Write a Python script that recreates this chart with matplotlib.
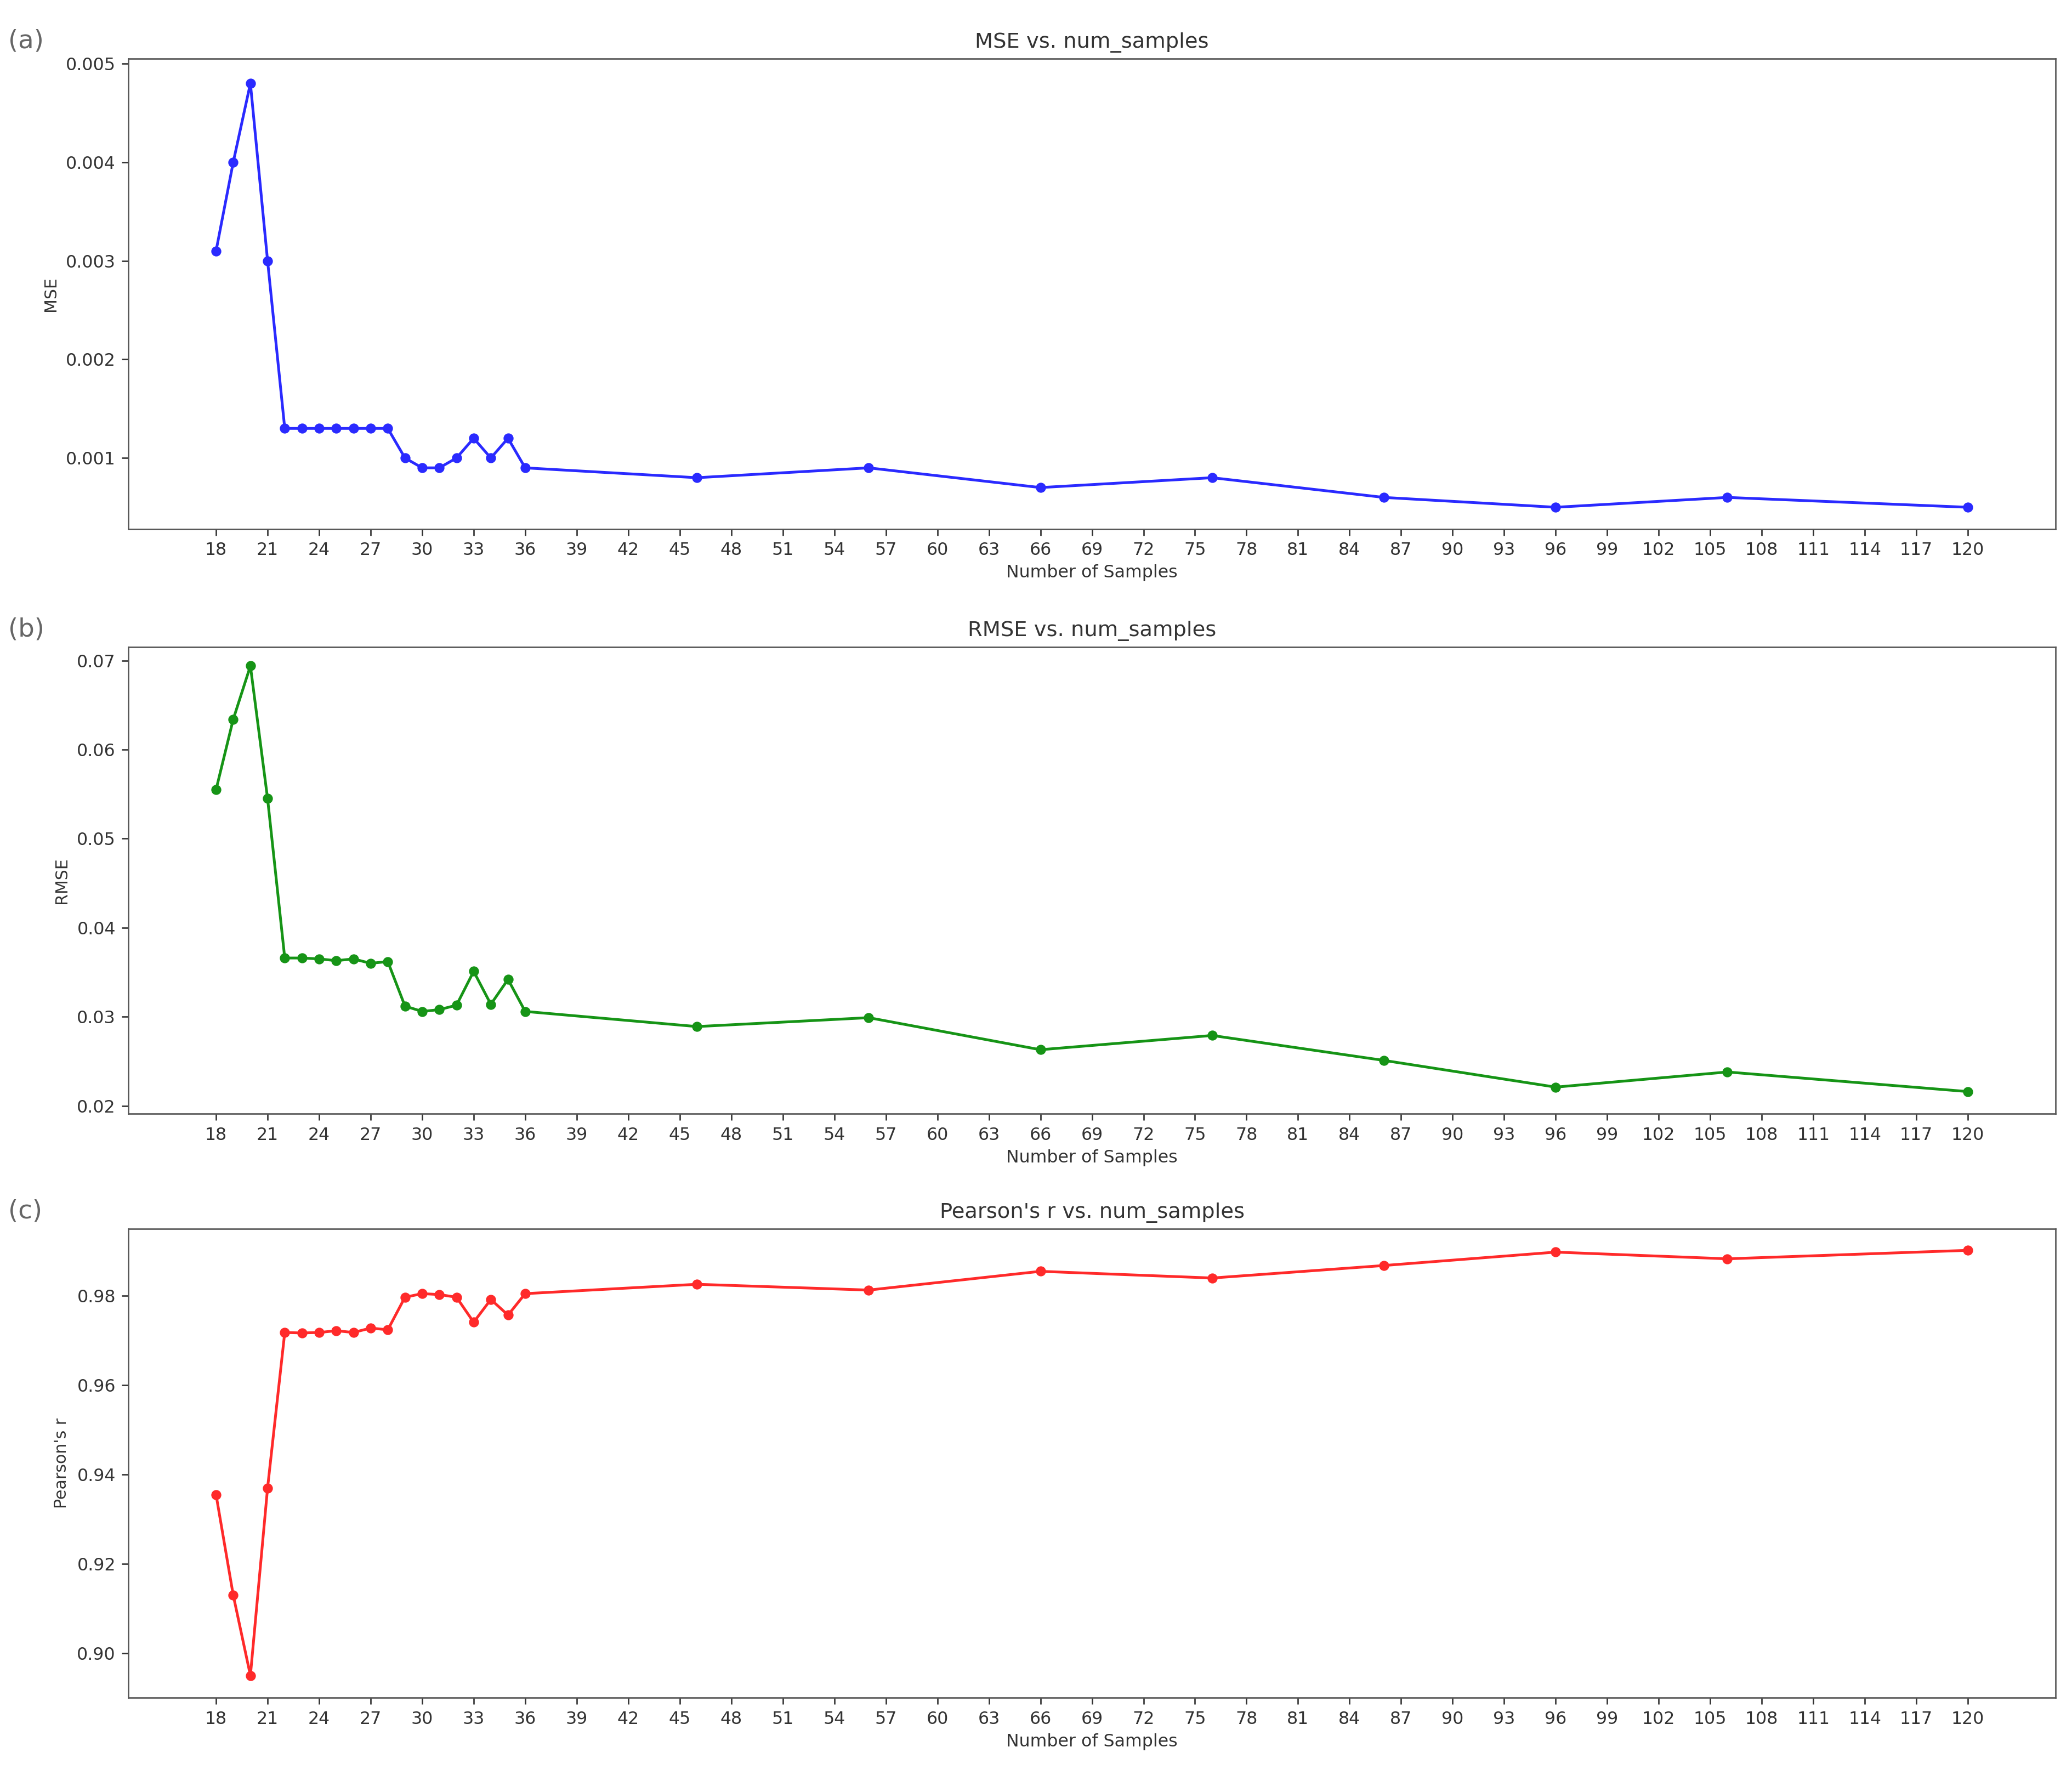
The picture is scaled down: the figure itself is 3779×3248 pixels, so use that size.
import matplotlib
matplotlib.use("Agg")
import matplotlib.pyplot as plt

num_samples = list(range(18, 37)) + [46, 56, 66, 76, 86, 96, 106, 120]

mse = [0.0031, 0.0040, 0.0048, 0.0030, 0.0013, 0.0013, 0.0013, 0.0013, 0.0013, 0.0013, 0.0013,
       0.0010, 0.0009, 0.0009, 0.0010, 0.0012, 0.0010, 0.0012, 0.0009,
       0.0008, 0.0009, 0.0007, 0.0008, 0.0006, 0.0005, 0.0006, 0.0005]

rmse = [0.0555, 0.0634, 0.0694, 0.0545, 0.0366, 0.0366, 0.0365, 0.0363, 0.0365, 0.0360, 0.0362,
        0.0312, 0.0306, 0.0308, 0.0313, 0.0351, 0.0314, 0.0342, 0.0306,
        0.0289, 0.0299, 0.0263, 0.0279, 0.0251, 0.0221, 0.0238, 0.0216]

pearson = [0.9355, 0.913, 0.895, 0.937, 0.9718, 0.9717, 0.9718, 0.9722, 0.9718, 0.9728, 0.9724,
           0.9797, 0.9805, 0.9803, 0.9797, 0.9741, 0.9792, 0.9757, 0.9805,
           0.9826, 0.9813, 0.9855, 0.9840, 0.9868, 0.9898, 0.9883, 0.9902]

x_ticks = list(range(18, 121, 3))

panels = [
    ("(a)", "MSE vs. num_samples", "MSE", mse, "#2a2aff", [0.001, 0.002, 0.003, 0.004, 0.005],
     (0.00028, 0.00505), [0.062, 0.703, 0.930, 0.264], "{:.3f}"),
    ("(b)", "RMSE vs. num_samples", "RMSE", rmse, "#169416", [0.02, 0.03, 0.04, 0.05, 0.06, 0.07],
     (0.0191, 0.0715), [0.062, 0.3746, 0.930, 0.262], "{:.2f}"),
    ("(c)", "Pearson's r vs. num_samples", "Pearson's r", pearson, "#ff2a2a",
     [0.90, 0.92, 0.94, 0.96, 0.98], (0.890, 0.995), [0.062, 0.0467, 0.930, 0.2633], "{:.2f}"),
]

fig = plt.figure(figsize=(3779 / 240, 3248 / 240), dpi=240)

for tag, title, ylabel, values, color, yticks, ylim, rect, fmt in panels:
    ax = fig.add_axes(rect)
    ax.plot(num_samples, values, color=color, marker="o", markersize=4.5, linewidth=1.5)
    ax.set_title(title, fontsize=11.5, color="#333333")
    ax.set_xlabel("Number of Samples", fontsize=9.5, color="#333333", labelpad=3)
    ax.set_ylabel(ylabel, fontsize=9, color="#333333")
    ax.set_xticks(x_ticks)
    ax.set_yticks(yticks)
    ax.set_yticklabels([fmt.format(v) for v in yticks])
    ax.set_xlim(12.9, 125.1)
    ax.set_ylim(*ylim)
    ax.tick_params(labelsize=9.5, colors="#333333")
    for spine in ax.spines.values():
        spine.set_color("#555555")
    fig.text(0.004, rect[1] + rect[3] + 0.003, tag, fontsize=14, color="#666666", va="bottom")

fig.savefig("out.png", dpi=240)
